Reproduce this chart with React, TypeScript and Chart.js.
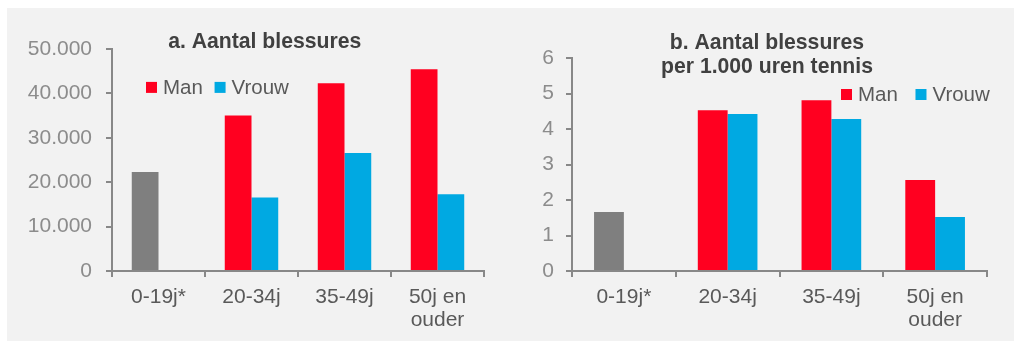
import React, { useEffect, useRef } from 'react';
import { Chart, registerables } from 'chart.js';

Chart.register(...registerables);

// Age groups on the x axis (the last one wraps onto two lines)
const ageGroups: (string | string[])[] = ['0-19j*', '20-34j', '35-49j', ['50j en', 'ouder']];
const seriesNames = ['Man', 'Vrouw'];

// a. number of injuries
const injuriesMan: (number | null)[] = [22300, 35000, 42300, 45450];
const injuriesVrouw: (number | null)[] = [null, 16550, 26550, 17300];
const injuriesTicks = [0, 10000, 20000, 30000, 40000, 50000];
const titleA = ['a. Aantal blessures'];

// b. injuries per 1,000 hours of tennis
const rateMan: (number | null)[] = [1.66, 4.53, 4.81, 2.56];
const rateVrouw: (number | null)[] = [null, 4.42, 4.28, 1.52];
const rateTicks = [0, 1, 2, 3, 4, 5, 6];
const titleB = ['b. Aantal blessures', 'per 1.000 uren tennis'];

const RED = '#FF0020';
const BLUE = '#00A9E2';
const GRAY = '#7F7F7F';
const AXIS = '#888888';
const FONT = '"Liberation Sans", Arial, Helvetica, sans-serif';

const formatThousands = (v: number) => String(v).replace(/\B(?=(\d{3})+(?!\d))/g, '.');

// Draws the panel title and an in-plot legend
const panelDecor = {
  id: 'panelDecor',
  afterDraw(chart: any, _args: any, opts: any) {
    const ctx = chart.ctx as CanvasRenderingContext2D;
    ctx.save();
    ctx.font = `bold 21.2px ${FONT}`;
    ctx.fillStyle = '#404040';
    ctx.textAlign = 'center';
    ctx.textBaseline = 'alphabetic';
    (opts.title as string[]).forEach((line, i) => {
      ctx.fillText(line, opts.titleX, opts.titleY + i * opts.titleLineHeight);
    });

    ctx.font = `20.5px ${FONT}`;
    ctx.textAlign = 'left';
    ctx.textBaseline = 'middle';
    let x = opts.legendX;
    const box = 11;
    (opts.names as string[]).forEach((name, i) => {
      ctx.fillStyle = opts.colors[i];
      ctx.fillRect(x, opts.legendY - box / 2, box, box);
      x += box + 6;
      ctx.fillStyle = '#595959';
      ctx.fillText(name, x, opts.legendY + 1);
      x += ctx.measureText(name).width + opts.legendGap;
    });
    ctx.restore();
  },
};

type PanelProps = {
  man: (number | null)[];
  vrouw: (number | null)[];
  ticks: number[];
  title: string[];
  width: number;
  height: number;
  axisWidth: number;
  padTop: number;
  padRight: number;
  tickPad: number;
  titleX: number;
  titleY: number;
  legendX: number;
  legendY: number;
  legendGap: number;
  format: (v: number) => string;
};

function Panel(p: PanelProps) {
  const ref = useRef<HTMLCanvasElement>(null);

  useEffect(() => {
    if (!ref.current) return;
    const chart = new Chart(ref.current, {
      type: 'bar',
      data: {
        labels: ageGroups,
        datasets: [
          {
            label: seriesNames[0],
            data: p.man,
            backgroundColor: p.man.map((_, i) => (p.vrouw[i] == null ? GRAY : RED)),
            borderWidth: 0,
            barPercentage: 1,
            categoryPercentage: 0.575,
          },
          {
            label: seriesNames[1],
            data: p.vrouw,
            backgroundColor: BLUE,
            borderWidth: 0,
            barPercentage: 1,
            categoryPercentage: 0.575,
          },
        ],
      },
      options: {
        responsive: false,
        maintainAspectRatio: false,
        animation: false,
        devicePixelRatio: 1,
        layout: { padding: { top: p.padTop, right: p.padRight, left: 0, bottom: 0 } },
        plugins: {
          legend: { display: false },
          title: { display: false },
          tooltip: { enabled: false },
          panelDecor: {
            title: p.title,
            titleX: p.titleX,
            titleY: p.titleY,
            titleLineHeight: 23.4,
            legendX: p.legendX,
            legendY: p.legendY,
            legendGap: p.legendGap,
            names: seriesNames,
            colors: [RED, BLUE],
          },
        } as any,
        scales: {
          x: {
            z: 1,
            grid: {
              display: true,
              drawOnChartArea: false,
              drawTicks: true,
              tickLength: 6,
              color: AXIS,
              lineWidth: 2,
              offset: true,
            },
            border: { display: true, color: AXIS, width: 2 },
            ticks: {
              color: '#595959',
              font: { size: 21, family: FONT, lineHeight: 1.12 },
              padding: 8,
              maxRotation: 0,
              autoSkip: false,
            },
            afterFit: (s: any) => {
              s.height = 70;
            },
          },
          y: {
            min: p.ticks[0],
            max: p.ticks[p.ticks.length - 1],
            grid: {
              display: true,
              drawOnChartArea: false,
              drawTicks: true,
              tickLength: 6,
              color: AXIS,
              lineWidth: 2,
            },
            border: { display: true, color: AXIS, width: 2 },
            ticks: {
              color: '#8C8C8C',
              font: { size: 21, family: FONT },
              padding: p.tickPad,
              callback: (v: any) => p.format(Number(v)),
            },
            afterBuildTicks: (s: any) => {
              s.ticks = p.ticks.map((value) => ({ value }));
            },
            afterFit: (s: any) => {
              s.width = p.axisWidth;
            },
          },
        },
      },
      plugins: [panelDecor as any],
    });
    return () => chart.destroy();
  }, []);

  return <canvas ref={ref} width={p.width} height={p.height} style={{ display: 'block' }} />;
}

export default function App() {
  return (
    <div style={{ position: 'absolute', left: 0, top: 0, width: 1014, height: 341, background: '#ffffff' }}>
      <div style={{ position: 'absolute', left: 7, top: 8, width: 1007, height: 333, background: '#F2F2F2' }} />
      <div style={{ position: 'absolute', left: 7, top: 8 }}>
        <Panel
          man={injuriesMan}
          vrouw={injuriesVrouw}
          ticks={injuriesTicks}
          title={titleA}
          width={498}
          height={333}
          axisWidth={105}
          padTop={41}
          padRight={21}
          tickPad={14}
          titleX={257.7}
          titleY={40.3}
          legendX={139}
          legendY={79.4}
          legendGap={11.7}
          format={formatThousands}
        />
      </div>
      <div style={{ position: 'absolute', left: 505, top: 8 }}>
        <Panel
          man={rateMan}
          vrouw={rateVrouw}
          ticks={rateTicks}
          title={titleB}
          width={509}
          height={333}
          axisWidth={67}
          padTop={50}
          padRight={27}
          tickPad={12}
          titleX={262}
          titleY={41.3}
          legendX={336}
          legendY={86.5}
          legendGap={17.6}
          format={(v) => String(v)}
        />
      </div>
    </div>
  );
}
